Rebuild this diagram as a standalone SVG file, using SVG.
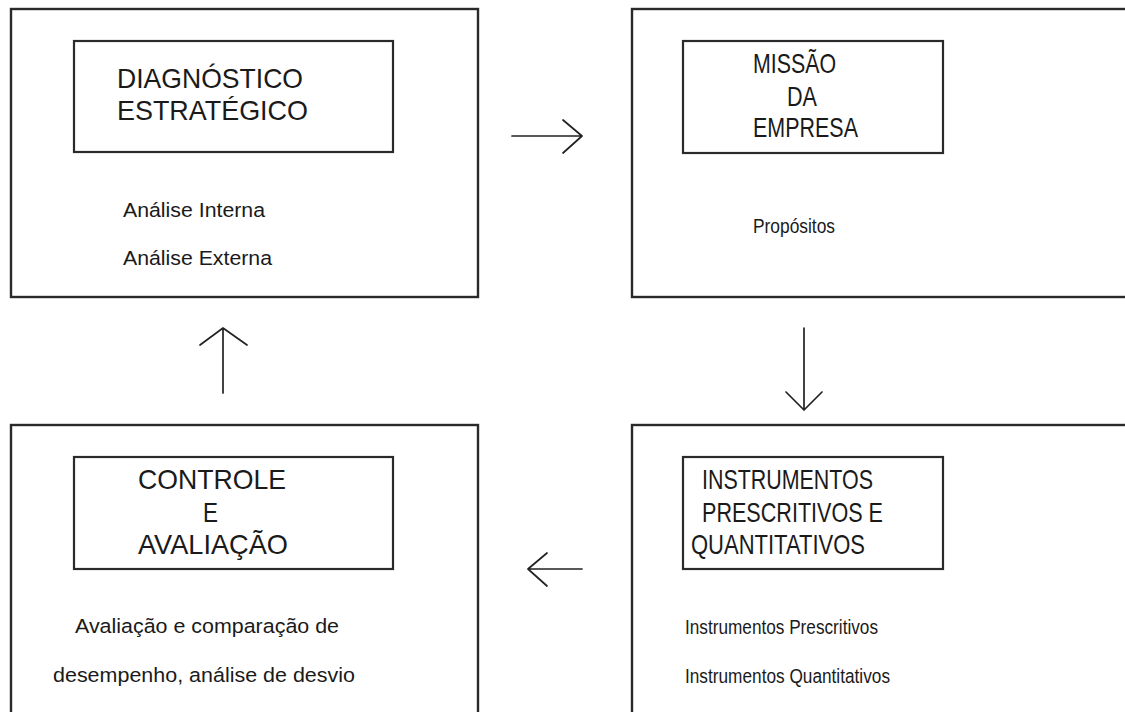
<svg xmlns="http://www.w3.org/2000/svg" width="1125" height="712" viewBox="0 0 1125 712">
<style>
.box{fill:none;stroke:#2a2a2a;stroke-width:2.4}
.inner{fill:none;stroke:#2a2a2a;stroke-width:2.2}
.conn{fill:none;stroke:#222;stroke-width:1.7;stroke-linecap:round;stroke-linejoin:round}
text{font-family:"Liberation Sans",Arial,sans-serif;fill:#1a1a1a}
.h{font-size:27.5px}
.s{font-size:20.5px}
</style>
<rect width="1125" height="712" fill="#fff"/>
<g id="diagnostico">
<rect class="box" x="11" y="9" width="467" height="288"/>
<rect class="inner" x="74" y="41" width="319" height="111"/>
<text class="h" x="117" y="88" textLength="186" lengthAdjust="spacingAndGlyphs">DIAGNÓSTICO</text>
<text class="h" x="117" y="120" textLength="191" lengthAdjust="spacingAndGlyphs">ESTRATÉGICO</text>
<text class="s" x="123" y="217" textLength="142" lengthAdjust="spacingAndGlyphs">Análise Interna</text>
<text class="s" x="123" y="265" textLength="149" lengthAdjust="spacingAndGlyphs">Análise Externa</text>
</g>
<g id="missao">
<rect class="box" x="632" y="9" width="520" height="288"/>
<rect class="inner" x="683" y="41" width="260" height="112"/>
<text class="h" x="753" y="73" textLength="83" lengthAdjust="spacingAndGlyphs">MISSÃO</text>
<text class="h" x="787" y="106" textLength="30" lengthAdjust="spacingAndGlyphs">DA</text>
<text class="h" x="753" y="137" textLength="105" lengthAdjust="spacingAndGlyphs">EMPRESA</text>
<text class="s" x="753" y="233" textLength="82" lengthAdjust="spacingAndGlyphs">Propósitos</text>
</g>
<g id="controle">
<rect class="box" x="11" y="425" width="467" height="320"/>
<rect class="inner" x="74" y="457" width="319" height="112"/>
<text class="h" x="138" y="489" textLength="148" lengthAdjust="spacingAndGlyphs">CONTROLE</text>
<text class="h" x="203" y="522" textLength="15" lengthAdjust="spacingAndGlyphs">E</text>
<text class="h" x="138" y="554" textLength="150" lengthAdjust="spacingAndGlyphs">AVALIAÇÃO</text>
<text class="s" x="75" y="633" textLength="264" lengthAdjust="spacingAndGlyphs">Avaliação e comparação de</text>
<text class="s" x="53" y="682" textLength="302" lengthAdjust="spacingAndGlyphs">desempenho, análise de desvio</text>
</g>
<g id="instrumentos">
<rect class="box" x="632" y="425" width="520" height="320"/>
<rect class="inner" x="683" y="457" width="260" height="112"/>
<text class="h" x="702" y="489" textLength="171" lengthAdjust="spacingAndGlyphs">INSTRUMENTOS</text>
<text class="h" x="702" y="522" textLength="181" lengthAdjust="spacingAndGlyphs">PRESCRITIVOS E</text>
<text class="h" x="691" y="554" textLength="174" lengthAdjust="spacingAndGlyphs">QUANTITATIVOS</text>
<text class="s" x="685" y="634" textLength="193" lengthAdjust="spacingAndGlyphs">Instrumentos Prescritivos</text>
<text class="s" x="685" y="683" textLength="205" lengthAdjust="spacingAndGlyphs">Instrumentos Quantitativos</text>
</g>
<g id="connectors">
<path class="conn" d="M512 136 H582 M563 120 L582 136 L563 153"/>
<path class="conn" d="M804 328 V410 M786 392 L804 410 L822 392"/>
<path class="conn" d="M582 569 H528 M547 553 L528 569 L547 586"/>
<path class="conn" d="M223 393 V328 M200 345 L223 328 L247 345"/>
</g>
</svg>
